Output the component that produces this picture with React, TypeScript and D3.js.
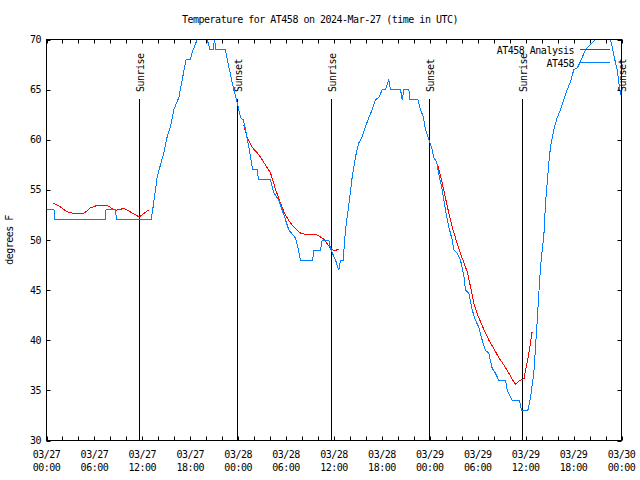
import React from "react";
import * as d3 from "d3";

const TITLE = "Temperature for AT458 on 2024-Mar-27 (time in UTC)";
const Y_LABEL = "degrees F";
const yTicks = [30, 35, 40, 45, 50, 55, 60, 65, 70];
const xLabelHours = [0, 6, 12, 18, 24, 30, 36, 42, 48, 54, 60, 66, 72];
const xLabelDates = ["03/27", "03/27", "03/27", "03/27", "03/28", "03/28", "03/28", "03/28", "03/29", "03/29", "03/29", "03/29", "03/30"];
const xLabelTimes = ["00:00", "06:00", "12:00", "18:00", "00:00", "06:00", "12:00", "18:00", "00:00", "06:00", "12:00", "18:00", "00:00"];
const sunNames = ["Sunrise", "Sunset", "Sunrise", "Sunset", "Sunrise", "Sunset"];
const sunHours = [11.58, 23.85, 35.62, 47.9, 59.54, 71.97];

// Analysis (red); null = gap
const analysisHours = [
  0.75, 1.75, 2.6, 3.4, 4.67, 5.5, 6.35, 7.6, 8.2, 8.65, 9.7, 10.5, 11.6, 12.8,
  18,
  24.7, 25.1, 25.8, 26.6, 27.4, 28.05, 28.7, 29.3, 29.9, 30.55, 31.2, 31.8, 32.65, 33.9, 34.7, 35.56, 36.0, 36.6,
  42,
  49.0, 49.55, 50.2, 50.8, 51.4, 52.0, 52.7, 53.1, 53.5, 54.1, 54.8, 55.4, 56.0, 56.6, 57.3, 57.9, 58.7, 59.1, 59.8, 60.4, 60.8,
];
const analysisTemps: (number | null)[] = [
  53.7, 53.3, 52.8, 52.65, 52.65, 53.2, 53.45, 53.45, 53.15, 52.95, 53.15, 52.8, 52.3, 53.0,
  null,
  61.5, 60.3, 59.2, 58.5, 57.5, 56.7, 55.0, 53.7, 52.5, 51.7, 51.1, 50.7, 50.5, 50.5, 50.1, 49.2, 48.9, 49.1,
  null,
  57.5, 55.7, 53.3, 51.3, 49.7, 48.3, 46.8, 45.3, 43.7, 42.3, 41.0, 40.0, 39.2, 38.3, 37.5, 36.7, 35.6, 35.9, 36.2, 38.7, 40.8,
];

// Observations (blue)
const obsHours = [
  0, 0.94, 1.04, 7.35, 7.45, 8.64, 8.77, 13.11, 13.44, 13.86, 14.69, 15.11, 15.53, 15.94, 16.57, 16.99, 17.49, 18.03,
  18.24, 18.87, 19.16, 19.9, 20.12, 20.47, 20.85, 21.04, 21.22, 22.41, 22.63, 23.45, 23.79, 24.08, 24.29, 24.63,
  24.92, 25.33, 25.76, 25.86, 26.38, 26.55, 28.05, 28.46, 29.09, 29.51, 29.93, 30.34, 31.18, 31.47, 31.81, 33.35,
  33.43, 34.31, 34.52, 35.35, 35.56, 36.19, 36.6, 36.81, 37.15, 37.44, 37.82, 38.28, 38.69, 39.11, 39.53, 39.94,
  40.36, 40.78, 41.2, 41.61, 42.04, 42.45, 42.86, 43.08, 44.33, 44.54, 44.74, 45.37, 45.52, 46.52, 46.83, 47.17,
  47.46, 47.87, 48.3, 48.5, 48.84, 49.09, 49.55, 49.96, 50.38, 50.8, 51.0, 51.43, 51.84, 52.25, 52.47, 52.88,
  53.31, 53.72, 54.13, 54.56, 54.97, 55.38, 55.81, 56.22, 56.64, 57.48, 57.69, 58.31, 59.23, 59.48, 60.27, 60.61,
  61.02, 61.23, 61.45, 61.65, 61.86, 62.07, 62.27, 62.49, 62.7, 62.9, 63.11, 63.52, 63.95, 64.36, 64.78, 65.2,
  65.61, 66.03, 66.49, 66.87, 67.49, 68.12, 68.75, 69.12, 70.37, 70.62, 70.91, 71.16, 71.46, 71.66, 71.88, 72.0,
];
const obsTemps = [
  53, 53, 52, 52, 53, 53, 52, 52, 53.8, 56.3, 58.7, 60.3, 61.3, 63, 64.2, 66, 68, 68,
  68.7, 70, 71, 71, 70, 69, 69, 70, 69, 69, 68, 65, 64, 63, 62.2, 62,
  61, 59.3, 57.3, 57, 57, 56, 56, 54.7, 54, 53, 52, 51, 50.2, 49.3, 48, 48,
  49, 49, 50, 50, 49.1, 48, 47, 48, 48, 51, 53.3, 56.3, 58.3, 59.7, 60.3, 61.3,
  62.2, 63, 64, 64.2, 65, 65, 66, 65, 65, 64, 65, 65, 64, 64, 63, 62.3,
  61, 60, 59, 58.2, 57.8, 56.7, 55, 53, 51.3, 50, 49, 48.7, 48, 46.5, 45, 44.7,
  43, 42, 41.3, 40, 39, 38.7, 37.2, 36.7, 36, 36, 35, 34, 34, 33, 33, 34.3,
  36.7, 39.3, 42, 44.7, 47.3, 49, 50.3, 53.7, 55.7, 57.7, 59.3, 61, 62.2, 63, 64, 65,
  65.8, 67, 67.2, 67.8, 69, 69.5, 70, 71, 71, 70, 69, 68, 67, 65.7, 64.7, 64.3,
];

const legendNames = ["AT458 Analysis", "AT458"];
const seriesColors = ["#ff0000", "#0080ff"];

const W = 640;
const H = 480;
const FONT = "'DejaVu Sans Mono', 'Liberation Mono', monospace";
const FS = 10;
const LS = -0.5;

export default function App() {
  const x = d3.scaleLinear().domain([0, 72]).range([46.5, 621.5]);
  const y = d3.scaleLinear().domain([30, 70]).range([440.5, 39.5]);
  const [x0, x1] = x.range();
  const [y0, y1] = [y(70), y(30)];

  const line = d3
    .line<[number, number | null]>()
    .defined((d) => d[1] !== null)
    .x((d) => x(d[0]))
    .y((d) => y(d[1] as number));

  const redPath = line(analysisHours.map((h, i) => [h, analysisTemps[i]]));
  const bluePath = line(obsHours.map((h, i) => [h, obsTemps[i]]));

  const minorTicks = d3.range(0, 73, 2);

  return (
    <svg width={W} height={H} style={{ display: "block", position: "absolute", left: 0, top: 0, background: "#fff" }}
      fontFamily={FONT} fontSize={FS} letterSpacing={LS}>
      <defs>
        <clipPath id="plotclip">
          <rect x={x0} y={y0} width={x1 - x0} height={y1 - y0} />
        </clipPath>
      </defs>
      <rect x={0} y={0} width={W} height={H} fill="#fff" />
      <text x={320} y={23} textAnchor="middle" fill="#000">{TITLE}</text>
      <text transform={`translate(13,240) rotate(-90)`} textAnchor="middle" fill="#000">{Y_LABEL}</text>

      {yTicks.map((t) => (
        <g key={"y" + t}>
          <line x1={x0} x2={x0 + 4} y1={Math.round(y(t)) + 0.5} y2={Math.round(y(t)) + 0.5} stroke="#000" />
          <line x1={x1 - 4} x2={x1} y1={Math.round(y(t)) + 0.5} y2={Math.round(y(t)) + 0.5} stroke="#000" />
          <text x={41} y={y(t) + 3.5} textAnchor="end" fill="#000">{t}</text>
        </g>
      ))}

      {minorTicks.map((h) => (
        <g key={"xt" + h}>
          <line x1={Math.round(x(h)) + 0.5} x2={Math.round(x(h)) + 0.5} y1={y1} y2={y1 - 4} stroke="#000" />
          <line x1={Math.round(x(h)) + 0.5} x2={Math.round(x(h)) + 0.5} y1={y0} y2={y0 + 4} stroke="#000" />
        </g>
      ))}
      {xLabelHours.map((h, i) => (
        <g key={"xl" + h}>
          <text x={x(h)} y={457.5} textAnchor="middle" fill="#000">{xLabelDates[i]}</text>
          <text x={x(h)} y={470.5} textAnchor="middle" fill="#000">{xLabelTimes[i]}</text>
        </g>
      ))}

      {sunHours.map((h, i) => {
        const sx = Math.round(x(h)) + 0.5;
        return (
          <g key={"sun" + i}>
            <line x1={sx} x2={sx} y1={99} y2={y1} stroke="#000" />
            <text transform={`translate(${sx + 4},92) rotate(-90)`} textAnchor="start" fill="#000">{sunNames[i]}</text>
          </g>
        );
      })}

      <g clipPath="url(#plotclip)" fill="none" shapeRendering="crispEdges">
        <path d={redPath || ""} stroke={seriesColors[0]} strokeWidth={1} />
        <path d={bluePath || ""} stroke={seriesColors[1]} strokeWidth={1} />
      </g>

      {legendNames.map((n, i) => (
        <g key={"lg" + i}>
          <text x={574} y={53.5 + i * 13} textAnchor="end" fill="#000">{n}</text>
          <line x1={580} x2={610} y1={49.5 + i * 13} y2={49.5 + i * 13} stroke={seriesColors[i]} />
        </g>
      ))}

      <rect x={x0} y={y0} width={x1 - x0} height={y1 - y0} fill="none" stroke="#000" />
    </svg>
  );
}
